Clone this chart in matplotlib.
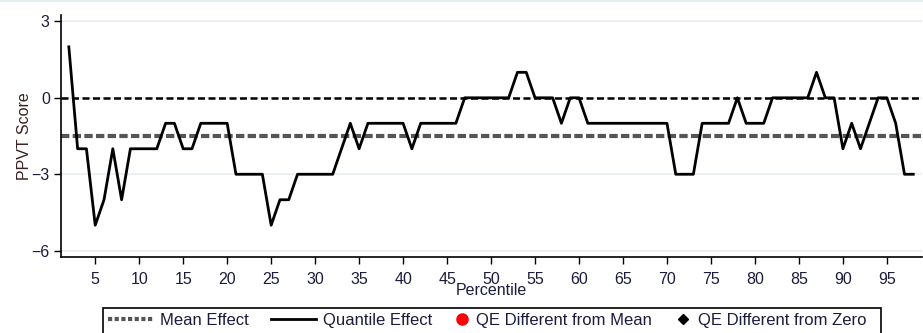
import matplotlib
matplotlib.use("Agg")
from matplotlib import pyplot as plt
from matplotlib.lines import Line2D
from matplotlib.patches import Rectangle

plt.rcParams['font.family'] = ['Liberation Sans', 'DejaVu Sans']

# quantile regression effects on PPVT score, by percentile
percentiles = list(range(2, 99))
quantile_effect = [
    2, -2, -2, -5, -4, -2, -4, -2, -2, -2,          # 2-11
    -2, -1, -1, -2, -2, -1, -1, -1, -1, -3,         # 12-21
    -3, -3, -3, -5, -4, -4, -3, -3, -3, -3,         # 22-31
    -3, -2, -1, -2, -1, -1, -1, -1, -1, -2,         # 32-41
    -1, -1, -1, -1, -1, 0, 0, 0, 0, 0,              # 42-51
    0, 1, 1, 0, 0, 0, -1, 0, 0, -1,                 # 52-61
    -1, -1, -1, -1, -1, -1, -1, -1, -1, -3,         # 62-71
    -3, -3, -1, -1, -1, -1, 0, -1, -1, -1,          # 72-81
    0, 0, 0, 0, 0, 1, 0, 0, -2, -1,                 # 82-91
    -2, -1, 0, 0, -1, -3, -3,                       # 92-98
]
mean_effect = -1.5
zero_line = 0
xticks = list(range(5, 100, 5))
yticks = [3, 0, -3, -6]
line_labels = ['Mean Effect', 'Quantile Effect']
marker_labels = ['QE Different from Mean', 'QE Different from Zero']

text_col = '#1c1c3c'
grid_col = '#e6edf1'
fs = 11.5
W, H = 923, 333

fig = plt.figure(figsize=(W / 100, H / 100), dpi=100)
ax = fig.add_axes([0.066, 0.228, 0.933, 0.727])

for y in yticks:
    ax.axhline(y, color=grid_col, lw=1.2, zorder=0)

ax.axhline(zero_line, color='black', lw=1.8, dashes=(2.8, 1.4), zorder=2)
ax.axhline(mean_effect, color='#555555', lw=3, dashes=(2.0, 0.8), zorder=2)
ax.plot(percentiles, quantile_effect, color='black', lw=2, zorder=3)

ax.set_xlim(1.1, 99)
ax.set_ylim(-6.25, 3.25)
ax.set_xticks(xticks)
ax.set_yticks(yticks)
ax.tick_params(axis='both', colors='black', labelcolor=text_col, labelsize=fs,
               length=5, width=1)
ax.tick_params(axis='x', pad=6)
ax.tick_params(axis='y', pad=3)
for s in ['top', 'right']:
    ax.spines[s].set_visible(False)
ax.spines['left'].set_linewidth(1.2)
ax.spines['bottom'].set_linewidth(1.2)
ax.set_xlabel('Percentile', color=text_col, fontsize=fs, labelpad=-3)
ax.set_ylabel('PPVT Score', color='#3a2020', fontsize=fs, labelpad=0)

# legend: lines and markers in two groups sharing one frame
lfs = 12
line_handles = [
    Line2D([], [], color='#555555', lw=3, dashes=(1.0, 0.6)),
    Line2D([], [], color='black', lw=2),
]
marker_handles = [
    Line2D([], [], color='red', marker='o', ms=8, ls='none'),
    Line2D([], [], color='black', marker='D', ms=5, ls='none'),
]
top = 1 - 308 / H
leg1 = fig.legend(line_handles, line_labels, ncol=2, loc='upper left',
                  bbox_to_anchor=(103 / W, top), fontsize=lfs, frameon=False,
                  borderpad=0.3, borderaxespad=0, handlelength=2.7,
                  handletextpad=0.45, columnspacing=1.3)
leg2 = fig.legend(marker_handles, marker_labels, ncol=2, loc='upper left',
                  bbox_to_anchor=(450 / W, top), fontsize=lfs, frameon=False,
                  borderpad=0.3, borderaxespad=0, handlelength=0.8,
                  handletextpad=0.45, columnspacing=1.5)
for leg in (leg1, leg2):
    for t in leg.get_texts():
        t.set_color(text_col)

fig.add_artist(Rectangle((103 / W, 1 - 340 / H), 778 / W, 32 / H,
                         transform=fig.transFigure, fill=False,
                         edgecolor='black', lw=1.2, clip_on=False))
fig.add_artist(Line2D([0, 1], [0.997, 0.997], color=grid_col, lw=1.5,
                      transform=fig.transFigure))

fig.savefig('out.png', dpi=100, facecolor='white')
